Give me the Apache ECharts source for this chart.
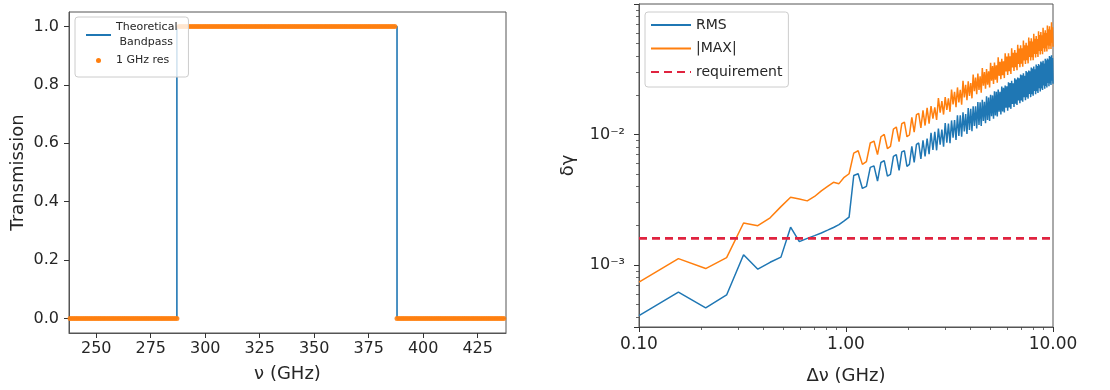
<!DOCTYPE html>
<html><head><meta charset="utf-8">
<script src="https://cdn.jsdelivr.net/npm/echarts@6/dist/echarts.min.js"></script>
<style>html,body{margin:0;padding:0;background:#fff}#c{width:1110px;height:390px}</style>
</head><body><div id="c"></div>
<script>
// ---------- Left panel: bandpass ----------
const bandFreq  = [237.5, 287, 287, 388, 388, 438];
const bandTrans = [0, 0, 1, 1, 0, 0];
const resFreq = [
 238,239,240,241,242,243,244,245,246,247,248,249,250,251,252,253,254,255,256,257,
 258,259,260,261,262,263,264,265,266,267,268,269,270,271,272,273,274,275,276,277,
 278,279,280,281,282,283,284,285,286,287,288,289,290,291,292,293,294,295,296,297,
 298,299,300,301,302,303,304,305,306,307,308,309,310,311,312,313,314,315,316,317,
 318,319,320,321,322,323,324,325,326,327,328,329,330,331,332,333,334,335,336,337,
 338,339,340,341,342,343,344,345,346,347,348,349,350,351,352,353,354,355,356,357,
 358,359,360,361,362,363,364,365,366,367,368,369,370,371,372,373,374,375,376,377,
 378,379,380,381,382,383,384,385,386,387,388,389,390,391,392,393,394,395,396,397,
 398,399,400,401,402,403,404,405,406,407,408,409,410,411,412,413,414,415,416,417,
 418,419,420,421,422,423,424,425,426,427,428,429,430,431,432,433,434,435,436,437];
const resTrans = [
 0,0,0,0,0,0,0,0,0,0,0,0,0,0,0,0,0,0,0,0,
 0,0,0,0,0,0,0,0,0,0,0,0,0,0,0,0,0,0,0,0,
 0,0,0,0,0,0,0,0,0,0,1,1,1,1,1,1,1,1,1,1,
 1,1,1,1,1,1,1,1,1,1,1,1,1,1,1,1,1,1,1,1,
 1,1,1,1,1,1,1,1,1,1,1,1,1,1,1,1,1,1,1,1,
 1,1,1,1,1,1,1,1,1,1,1,1,1,1,1,1,1,1,1,1,
 1,1,1,1,1,1,1,1,1,1,1,1,1,1,1,1,1,1,1,1,
 1,1,1,1,1,1,1,1,1,1,0,0,0,0,0,0,0,0,0,0,
 0,0,0,0,0,0,0,0,0,0,0,0,0,0,0,0,0,0,0,0,
 0,0,0,0,0,0,0,0,0,0,0,0,0,0,0,0,0,0,0,0];
const leftXTicks = [250, 275, 300, 325, 350, 375, 400, 425];
const leftYTicks = [0, 0.2, 0.4, 0.6, 0.8, 1.0];

// ---------- Right panel: error vs resolution ----------
const dnu = [
 0.100,0.155,0.210,0.265,0.320,0.375,0.430,0.485,0.540,0.595,0.650,0.705,0.760,0.815,0.870,0.925,0.980,1.035,1.090,1.145,
 1.200,1.255,1.310,1.365,1.420,1.475,1.530,1.585,1.640,1.695,1.750,1.805,1.860,1.915,1.970,2.025,2.080,2.135,2.190,2.245,
 2.300,2.355,2.410,2.465,2.520,2.575,2.630,2.685,2.740,2.795,2.850,2.905,2.960,3.015,3.070,3.125,3.180,3.235,3.290,3.345,
 3.400,3.455,3.510,3.565,3.620,3.675,3.730,3.785,3.840,3.895,3.950,4.005,4.060,4.115,4.170,4.225,4.280,4.335,4.390,4.445,
 4.500,4.555,4.610,4.665,4.720,4.775,4.830,4.885,4.940,4.995,5.050,5.105,5.160,5.215,5.270,5.325,5.380,5.435,5.490,5.545,
 5.600,5.655,5.710,5.765,5.820,5.875,5.930,5.985,6.040,6.095,6.150,6.205,6.260,6.315,6.370,6.425,6.480,6.535,6.590,6.645,
 6.700,6.755,6.810,6.865,6.920,6.975,7.030,7.085,7.140,7.195,7.250,7.305,7.360,7.415,7.470,7.525,7.580,7.635,7.690,7.745,
 7.800,7.855,7.910,7.965,8.020,8.075,8.130,8.185,8.240,8.295,8.350,8.405,8.460,8.515,8.570,8.625,8.680,8.735,8.790,8.845,
 8.900,8.955,9.010,9.065,9.120,9.175,9.230,9.285,9.340,9.395,9.450,9.505,9.560,9.615,9.670,9.725,9.780,9.835,9.890,9.945,
 10.000];
const rms = [
 0.00041,0.00062,0.00047,0.00059,0.00120,0.00093,0.00105,0.00115,0.00195,0.00151,0.00160,0.00168,0.00176,0.00185,0.00194,0.00204,0.00218,0.00233,0.00485,0.0050,
 0.00386,0.0040,0.0056,0.00575,0.0044,0.0061,0.0063,0.0048,0.00495,0.0068,0.0070,0.0053,0.00735,0.0075,0.0057,0.0059,0.0081,0.0061,0.0084,0.0086,
 0.0065,0.0090,0.0068,0.0093,0.00705,0.0103,0.0076,0.01045,0.00756,0.0111,0.00836,0.0109,0.00807,0.0122,0.00866,0.0121,0.00858,0.0128,0.00946,0.0129,
 0.00909,0.0140,0.00972,0.0140,0.00960,0.0148,0.01055,0.0143,0.0101,0.0159,0.0108,0.0157,0.0106,0.0164,0.0116,0.0164,0.0111,0.0177,0.0118,0.0176,
 0.0116,0.0184,0.0127,0.0178,0.0122,0.0196,0.0129,0.0192,0.0127,0.0201,0.0138,0.0199,0.0132,0.0214,0.0140,0.0212,0.0137,0.0221,0.0149,0.0212,
 0.0142,0.0233,0.0150,0.0228,0.0147,0.0237,0.0160,0.0234,0.0152,0.0251,0.0161,0.0248,0.0157,0.0258,0.0171,0.0246,0.0162,0.0269,0.0172,0.0263,
 0.0168,0.0273,0.0182,0.0269,0.0173,0.0288,0.0182,0.0284,0.0178,0.0294,0.0193,0.0281,0.0183,0.0306,0.0193,0.0299,0.0188,0.0309,0.0204,0.0304,
 0.0193,0.0325,0.0203,0.0320,0.0198,0.0331,0.0215,0.0315,0.0203,0.0343,0.0214,0.0334,0.0208,0.0346,0.0226,0.0339,0.0213,0.0362,0.0225,0.0356,
 0.0219,0.0367,0.0237,0.0349,0.0224,0.0380,0.0235,0.0370,0.0229,0.0382,0.0248,0.0375,0.0234,0.0399,0.0246,0.0391,0.0239,0.0404,0.0258,0.0384,
 0.0244];
const maxAbs = [
 0.00074,0.00112,0.00094,0.00114,0.00210,0.00200,0.00230,0.00280,0.00330,0.00320,0.00310,0.00335,0.00370,0.00400,0.00430,0.00420,0.00470,0.00500,0.0072,0.0075,
 0.0059,0.0062,0.0086,0.0089,0.0070,0.0096,0.0100,0.0078,0.0081,0.0110,0.0114,0.0088,0.0121,0.0124,0.0096,0.0099,0.0135,0.0104,0.0142,0.0145,
 0.0112,0.0153,0.0117,0.0160,0.0121,0.0165,0.0132,0.0161,0.0129,0.0190,0.0147,0.0180,0.0142,0.0193,0.0154,0.0189,0.0149,0.0221,0.0170,0.0212,
 0.0162,0.0229,0.0176,0.0220,0.0169,0.0257,0.0192,0.0240,0.0183,0.0255,0.0197,0.0247,0.0189,0.0287,0.0214,0.0273,0.0203,0.0292,0.0219,0.0279,
 0.0209,0.0323,0.0236,0.0300,0.0224,0.0317,0.0240,0.0305,0.0229,0.0353,0.0258,0.0334,0.0244,0.0355,0.0262,0.0338,0.0249,0.0390,0.0281,0.0360,
 0.0265,0.0379,0.0284,0.0363,0.0270,0.0419,0.0303,0.0395,0.0285,0.0419,0.0305,0.0397,0.0290,0.0456,0.0325,0.0421,0.0306,0.0442,0.0327,0.0422,
 0.0310,0.0485,0.0347,0.0455,0.0327,0.0482,0.0348,0.0456,0.0330,0.0523,0.0369,0.0481,0.0347,0.0504,0.0370,0.0480,0.0350,0.0551,0.0392,0.0516,
 0.0368,0.0546,0.0391,0.0515,0.0370,0.0590,0.0414,0.0541,0.0388,0.0566,0.0413,0.0538,0.0391,0.0617,0.0436,0.0577,0.0409,0.0609,0.0435,0.0574,
 0.0411,0.0656,0.0458,0.0601,0.0429,0.0628,0.0456,0.0597,0.0431,0.0683,0.0480,0.0638,0.0450,0.0672,0.0478,0.0633,0.0451,0.0723,0.0503,0.0661,
 0.0470];
const reqX = [0.1, 10];
const reqY = [0.0016, 0.0016];
const minorXTicks = [0.2,0.3,0.4,0.5,0.6,0.7,0.8,0.9,2,3,4,5,6,7,8,9];
const minorYTicks = [0.0004,0.0005,0.0006,0.0007,0.0008,0.0009,0.002,0.003,0.004,0.005,0.006,0.007,0.008,0.009,0.02,0.03,0.04,0.05,0.06,0.07,0.08,0.09];

// ---------- build ----------
const FONT = 'DejaVu Sans';
const TXT = '#262626';
const AX = '#555';
const Y_MIN = 3.355e-4, Y_MAX = 0.0997;
const zip = (xs, ys) => xs.map((x, i) => [x, ys[i]]);
const supMap = {'-': '\u207B', '0': '\u2070', '1': '\u00B9', '2': '\u00B2', '3': '\u00B3', '4': '\u2074'};
function powLabel(v) {
  const l = Math.log10(v), e = Math.round(l);
  if (Math.abs(l - e) > 1e-6) return '';
  return '10' + String(e).split('').map(c => supMap[c]).join('');
}
function decLabel(v) {
  const l = Math.log10(v), e = Math.round(l);
  if (Math.abs(l - e) > 1e-6) return '';
  return Math.pow(10, e).toFixed(2);
}
const tickStyle = {show: true, inside: false, length: 5, lineStyle: {color: '#333', width: 1}};
const minorTick = (vals) => ({show: true, inside: false, length: 3, customValues: vals, lineStyle: {color: '#444', width: 0.8}});

const chart = echarts.init(document.getElementById('c'), null, {renderer: 'canvas'});
chart.setOption({
  animation: false,
  backgroundColor: '#fff',
  textStyle: {fontFamily: FONT},
  grid: [
    {left: 69, top: 12, width: 437, height: 321, show: true, borderColor: AX, borderWidth: 1, backgroundColor: 'transparent'},
    {left: 639, top: 4, width: 414, height: 329, show: true, borderColor: AX, borderWidth: 1, backgroundColor: 'transparent'}
  ],
  xAxis: [
    {gridIndex: 0, type: 'value', min: 237.5, max: 438,
     name: '\u03BD (GHz)', nameLocation: 'middle', nameGap: 32,
     nameTextStyle: {fontFamily: FONT, fontSize: 18, color: TXT},
     axisLine: {onZero: false, lineStyle: {color: AX}},
     axisTick: Object.assign({customValues: leftXTicks}, tickStyle),
     axisLabel: {customValues: leftXTicks, margin: 8, fontFamily: FONT, fontSize: 16, color: TXT},
     splitLine: {show: false}},
    {gridIndex: 1, type: 'log', logBase: 10, min: 0.1, max: 10, position: 'bottom',
     name: '\u0394\u03BD (GHz)', nameLocation: 'middle', nameGap: 40,
     nameTextStyle: {fontFamily: FONT, fontSize: 18, color: TXT},
     axisLine: {onZero: false, lineStyle: {color: AX}},
     axisTick: tickStyle,
     axisLabel: {formatter: decLabel, margin: 9, fontFamily: FONT, fontSize: 17, color: TXT},
     splitLine: {show: false}},
    {gridIndex: 1, type: 'log', logBase: 10, min: 0.1, max: 10, position: 'bottom', offset: 0,
     axisLine: {show: false, onZero: false},
     axisTick: minorTick(minorXTicks),
     axisLabel: {show: false},
     splitLine: {show: false}}
  ],
  yAxis: [
    {gridIndex: 0, type: 'value', min: -0.05, max: 1.05,
     name: 'Transmission', nameLocation: 'middle', nameGap: 42,
     nameTextStyle: {fontFamily: FONT, fontSize: 18, color: TXT},
     axisLine: {onZero: false, lineStyle: {color: AX}},
     axisTick: Object.assign({customValues: leftYTicks}, tickStyle),
     axisLabel: {customValues: leftYTicks, margin: 10, fontFamily: FONT, fontSize: 16, color: TXT,
                 formatter: v => v.toFixed(1)},
     splitLine: {show: false}},
    {gridIndex: 1, type: 'log', logBase: 10, min: Y_MIN, max: Y_MAX, position: 'left',
     name: '\u03B4\u03B3', nameLocation: 'middle', nameGap: 62,
     nameTextStyle: {fontFamily: FONT, fontSize: 18, color: TXT},
     axisLine: {onZero: false, lineStyle: {color: AX}},
     axisTick: tickStyle,
     axisLabel: {formatter: powLabel, margin: 14, fontFamily: FONT, fontSize: 16, color: TXT},
     splitLine: {show: false}},
    {gridIndex: 1, type: 'log', logBase: 10, min: Y_MIN, max: Y_MAX, position: 'left', offset: 0,
     axisLine: {show: false, onZero: false},
     axisTick: minorTick(minorYTicks),
     axisLabel: {show: false},
     splitLine: {show: false}}
  ],
  legend: [
    {orient: 'vertical', left: 75, top: 17, padding: [3, 11, 9, 10], itemGap: 3,
     itemWidth: 25, itemHeight: 5, selectedMode: false,
     backgroundColor: 'rgba(255,255,255,0.8)', borderColor: '#cccccc', borderWidth: 1, borderRadius: 3,
     textStyle: {fontFamily: FONT, fontSize: 11, lineHeight: 15, color: TXT},
     itemStyle: {opacity: 0},
     data: [{name: 'Theoretical\n Bandpass'},
            {name: '1 GHz res', icon: 'circle', itemStyle: {opacity: 1, color: '#ff7f0e'}}]},
    {orient: 'vertical', left: 645, top: 12, padding: [6, 6, 8, 5], itemGap: 9.5,
     itemWidth: 40, itemHeight: 10, selectedMode: false,
     backgroundColor: 'rgba(255,255,255,0.8)', borderColor: '#cccccc', borderWidth: 1, borderRadius: 3,
     textStyle: {fontFamily: FONT, fontSize: 14, color: TXT},
     itemStyle: {opacity: 0},
     data: ['RMS', '|MAX|', 'requirement']}
  ],
  series: [
    {name: 'Theoretical\n Bandpass', type: 'line', xAxisIndex: 0, yAxisIndex: 0,
     data: zip(bandFreq, bandTrans), symbol: 'none', lineStyle: {color: '#1f77b4', width: 1.6},
     itemStyle: {color: '#1f77b4'}, z: 2},
    {name: '1 GHz res', type: 'scatter', xAxisIndex: 0, yAxisIndex: 0,
     data: zip(resFreq, resTrans), symbol: 'circle', symbolSize: 5,
     itemStyle: {color: '#ff7f0e', opacity: 0.9}, z: 3},
    {name: 'RMS', type: 'line', xAxisIndex: 1, yAxisIndex: 1,
     data: zip(dnu, rms), symbol: 'none', lineStyle: {color: '#1f77b4', width: 1.5},
     itemStyle: {color: '#1f77b4'}, z: 2},
    {name: '|MAX|', type: 'line', xAxisIndex: 1, yAxisIndex: 1,
     data: zip(dnu, maxAbs), symbol: 'none', lineStyle: {color: '#ff7f0e', width: 1.5},
     itemStyle: {color: '#ff7f0e'}, z: 3},
    {name: 'requirement', type: 'line', xAxisIndex: 1, yAxisIndex: 1,
     data: zip(reqX, reqY), symbol: 'none', lineStyle: {color: '#e0233f', width: 2.6, type: [8, 5]},
     itemStyle: {color: '#e0233f'}, z: 4}
  ]
});
</script>
</body></html>
